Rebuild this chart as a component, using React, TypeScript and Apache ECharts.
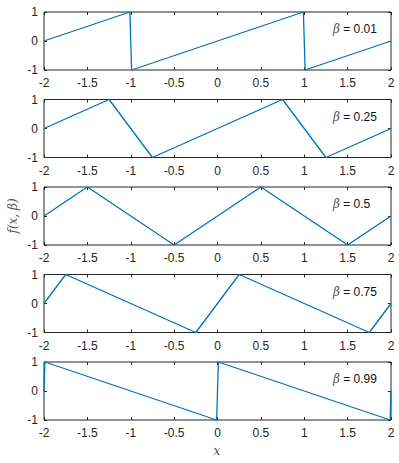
import React, { useEffect, useRef } from "react";
import * as echarts from "echarts";

const betas = ["0.01", "0.25", "0.5", "0.75", "0.99"];
const beta001X = [-2, -1.01, -0.99, 0.99, 1.01, 2];
const beta025X = [-2, -1.25, -0.75, 0.75, 1.25, 2];
const beta05X = [-2, -1.5, -0.5, 0.5, 1.5, 2];
const beta075X = [-2, -1.75, -0.25, 0.25, 1.75, 2];
const beta099X = [-2, -1.99, -0.01, 0.01, 1.99, 2];
const vertexY = [0, 1, -1, 1, -1, 0];
const seriesX = [beta001X, beta025X, beta05X, beta075X, beta099X];

const LINE = "#0072BD";
const AX = "#262626";
const SANS = "'Liberation Sans', Arial, Helvetica, sans-serif";
const SERIF = "'DejaVu Serif', 'Liberation Serif', serif";

export default function App() {
  const ref = useRef<HTMLDivElement>(null);
  useEffect(() => {
    const chart = echarts.init(ref.current!, null, { renderer: "svg" });
    const tops = [12, 99.5, 187, 274.5, 362];
    const H = 58;
    const grids: any[] = [];
    const xAxes: any[] = [];
    const yAxes: any[] = [];
    const series: any[] = [];
    const graphics: any[] = [];
    tops.forEach((t, i) => {
      grids.push({ left: 44, width: 347, top: t, height: H, show: true, borderColor: AX, borderWidth: 1, backgroundColor: "#fff" });
      const baseX = {
        gridIndex: i, type: "value", min: -2, max: 2, interval: 0.5,
        axisLine: { show: false, onZero: false }, splitLine: { show: false },
        axisTick: { show: true, inside: true, length: 3, lineStyle: { color: AX } },
      };
      xAxes.push({ ...baseX, position: "bottom",
        axisLabel: { show: true, color: AX, fontFamily: SANS, fontSize: 12, margin: 7 } });
      xAxes.push({ ...baseX, position: "top", axisLabel: { show: false } });
      const baseY = {
        gridIndex: i, type: "value", min: -1, max: 1, interval: 1,
        axisLine: { show: false, onZero: false }, splitLine: { show: false },
        axisTick: { show: true, inside: true, length: 3, lineStyle: { color: AX } },
      };
      yAxes.push({ ...baseY, position: "left",
        axisLabel: { show: true, color: AX, fontFamily: SANS, fontSize: 12, margin: 6 } });
      yAxes.push({ ...baseY, position: "right", axisLabel: { show: false } });
      series.push({
        type: "line", xAxisIndex: 2 * i, yAxisIndex: 2 * i,
        data: seriesX[i].map((x, k) => [x, vertexY[k]]),
        showSymbol: false, symbol: "none",
        lineStyle: { color: LINE, width: 1.3 },
      });
      graphics.push({
        type: "text", left: 333, top: t + 18 - 7,
        style: {
          rich: {
            b: { fontFamily: SERIF, fontStyle: "italic", fontSize: 12, fill: "#555" },
            n: { fontFamily: SANS, fontSize: 12, fill: "#111" },
          },
          text: `{b|β}{n| = ${betas[i]}}`,
        },
      });
    });
    graphics.push({
      type: "text", x: 13, y: 216, rotation: Math.PI / 2,
      style: { text: "f(x, β)", fontFamily: SERIF, fontStyle: "italic", fontSize: 12, fill: "#555", align: "center", verticalAlign: "middle" },
    });
    graphics.push({
      type: "text", x: 217, y: 451,
      style: { text: "x", fontFamily: SERIF, fontStyle: "italic", fontSize: 12, fill: "#555", align: "center", verticalAlign: "middle" },
    });
    chart.setOption({
      animation: false,
      backgroundColor: "#fff",
      grid: grids, xAxis: xAxes, yAxis: yAxes, series, graphic: graphics,
    });
    return () => chart.dispose();
  }, []);
  return <div ref={ref} style={{ width: 399, height: 463, position: "absolute", left: 0, top: 0 }} />;
}
